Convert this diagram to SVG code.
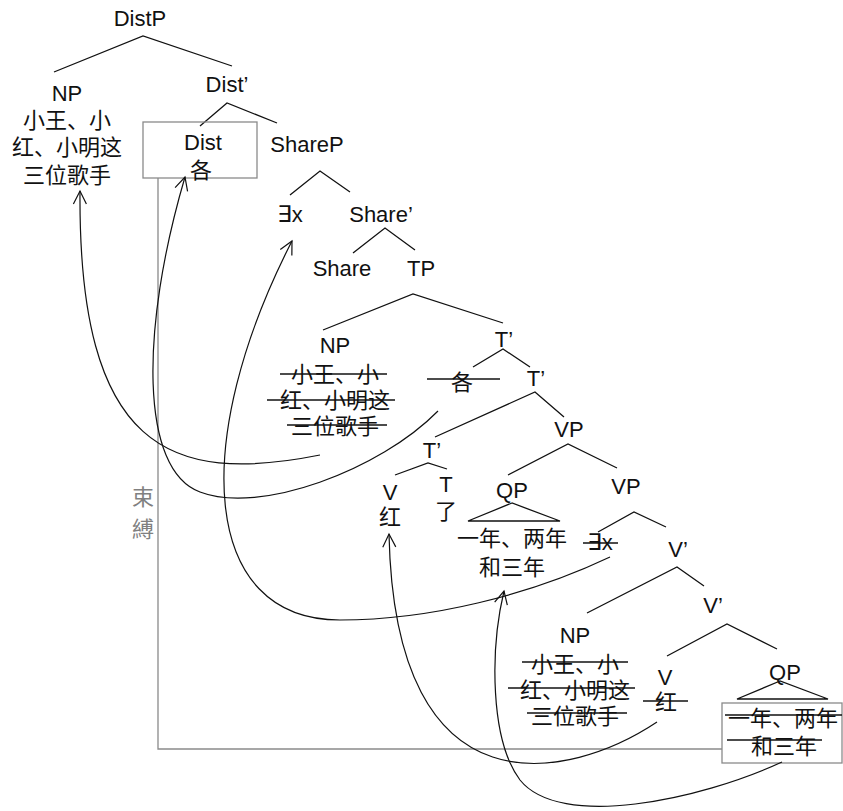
<svg xmlns="http://www.w3.org/2000/svg" width="843" height="811" viewBox="0 0 843 811">
<style>
  text { font-family: "Liberation Sans", "Noto Sans CJK SC", "DejaVu Sans", sans-serif; font-size: 22px; fill: #111; text-anchor: middle; }
  .cjk { font-family: "Noto Sans CJK SC", "Liberation Sans", sans-serif; }
  .ex { font-family: "DejaVu Sans", sans-serif; font-size: 23px; }
  .tc { font-family: "Noto Sans CJK TC", sans-serif; fill: #808080; }
  .br { stroke: #111; stroke-width: 1.3; fill: none; }
  .strike { stroke: #111; stroke-width: 1.3; }
  .box { fill: none; stroke: #8a8a8a; stroke-width: 1.3; }
  .bind { fill: none; stroke: #8a8a8a; stroke-width: 1.3; }
  .mv { fill: none; stroke: #111; stroke-width: 1.2; marker-end: url(#ah); }
</style>
<defs>
  <marker id="ah" markerUnits="userSpaceOnUse" markerWidth="16" markerHeight="16" viewBox="0 0 16 16" refX="14" refY="8" orient="auto">
    <path d="M1,1.5 L14,8 L1,14.5" fill="none" stroke="#111" stroke-width="1.2"/>
  </marker>
</defs>
<rect width="843" height="811" fill="#fff"/>

<g id="branches">
  <path class="br" d="M54,72 L143,36 L232,66"/>
  <path class="br" d="M200,126 L227,103 L277,123"/>
  <path class="br" d="M290,195 L320,171 L350,192"/>
  <path class="br" d="M353,253 L385,228 L415,250"/>
  <path class="br" d="M323,330 L413,294 L503,323"/>
  <path class="br" d="M473,367 L503,349 L530,367"/>
  <path class="br" d="M435,437 L535,392 L564,417"/>
  <path class="br" d="M395,475 L428,463 L447,469"/>
  <path class="br" d="M508,475 L568,444 L617,468"/>
  <path class="br" d="M598,532 L634,512 L666,527"/>
  <path class="br" d="M587,613 L677,567 L704,586"/>
  <path class="br" d="M667,656 L727,624 L777,649"/>
  <path class="br" d="M512,503 L468,521 L560,521 Z"/>
  <path class="br" d="M780,681 L737,699 L828,699 Z"/>
</g>

<g id="distp"><text x="140" y="26">DistP</text></g>
<g id="np-top">
  <text x="67" y="101">NP</text>
  <text class="cjk" x="67" y="128">小王、小</text>
  <text class="cjk" x="67" y="155">红、小明这</text>
  <text class="cjk" x="67" y="183">三位歌手</text>
</g>
<g id="distbar"><text x="227" y="92">Dist&#8217;</text></g>
<g id="dist">
  <rect class="box" x="143" y="122" width="114" height="56"/>
  <text x="203" y="150">Dist</text>
  <text class="cjk" x="201" y="178">各</text>
</g>
<g id="sharep"><text x="307" y="152">ShareP</text></g>
<g id="exists-top"><text x="290" y="222"><tspan class="ex">∃</tspan>x</text></g>
<g id="sharebar"><text x="381" y="222">Share&#8217;</text></g>
<g id="share"><text x="342" y="276">Share</text></g>
<g id="tp"><text x="421" y="276">TP</text></g>
<g id="np-tp">
  <text x="335" y="353">NP</text>
  <text class="cjk" x="335" y="382">小王、小</text>
  <text class="cjk" x="335" y="408">红、小明这</text>
  <text class="cjk" x="335" y="434">三位歌手</text>
  <line class="strike" x1="280" y1="374" x2="387" y2="374"/>
  <line class="strike" x1="267" y1="400" x2="395" y2="400"/>
  <line class="strike" x1="287" y1="425" x2="387" y2="425"/>
</g>
<g id="tbar1"><text x="504" y="347">T&#8217;</text></g>
<g id="ge-trace">
  <text class="cjk" x="462" y="390">各</text>
  <line class="strike" x1="427" y1="379" x2="500" y2="379"/>
</g>
<g id="tbar2"><text x="536" y="386">T&#8217;</text></g>
<g id="vp1"><text x="569" y="437">VP</text></g>
<g id="tbar3"><text x="432" y="458">T&#8217;</text></g>
<g id="v-hong">
  <text x="390" y="500">V</text>
  <text class="cjk" x="390" y="525">红</text>
</g>
<g id="t-le">
  <text x="446" y="492">T</text>
  <text class="cjk" x="446" y="519">了</text>
</g>
<g id="qp1">
  <text x="512" y="498">QP</text>
  <text class="cjk" x="512" y="546">一年、两年</text>
  <text class="cjk" x="512" y="575">和三年</text>
</g>
<g id="vp2"><text x="626" y="494">VP</text></g>
<g id="exists-trace">
  <text x="600" y="550"><tspan class="ex">∃</tspan>x</text>
  <line class="strike" x1="583" y1="543" x2="618" y2="543"/>
</g>
<g id="vbar1"><text x="678" y="557">V&#8217;</text></g>
<g id="vbar2"><text x="713" y="613">V&#8217;</text></g>
<g id="np-vp">
  <text x="575" y="643">NP</text>
  <text class="cjk" x="575" y="672">小王、小</text>
  <text class="cjk" x="575" y="698">红、小明这</text>
  <text class="cjk" x="575" y="724">三位歌手</text>
  <line class="strike" x1="522" y1="662" x2="628" y2="662"/>
  <line class="strike" x1="508" y1="688" x2="635" y2="688"/>
  <line class="strike" x1="527" y1="713" x2="627" y2="713"/>
</g>
<g id="v-trace">
  <text x="665" y="685">V</text>
  <text class="cjk" x="666" y="710">红</text>
  <line class="strike" x1="643" y1="701" x2="688" y2="701"/>
</g>
<g id="qp2">
  <text x="785" y="680">QP</text>
  <rect class="box" x="722" y="703" width="120" height="60"/>
  <text class="cjk" x="783" y="726">一年、两年</text>
  <text class="cjk" x="784" y="754">和三年</text>
  <line class="strike" x1="725" y1="715" x2="842" y2="715"/>
  <line class="strike" x1="727" y1="740" x2="822" y2="740"/>
</g>
<g id="binding">
  <path class="bind" d="M158,178 L158,749 L722,749"/>
  <text class="tc" x="143" y="505">束</text>
  <text class="tc" x="143" y="537">縛</text>
</g>

<g id="movements">
  <path class="mv" d="M320,455 C170,485 78,450 80,191"/>
  <path class="mv" d="M438,411 C380,470 260,515 200,492 C140,470 140,330 185,177"/>
  <path class="mv" d="M610,557 C530,595 430,620 340,620 C200,620 190,440 292,241"/>
  <path class="mv" d="M657,722 C570,780 395,820 389,534"/>
  <path class="mv" d="M782,762 C700,800 560,830 520,780 C490,740 490,650 504,591"/>
</g>
</svg>
